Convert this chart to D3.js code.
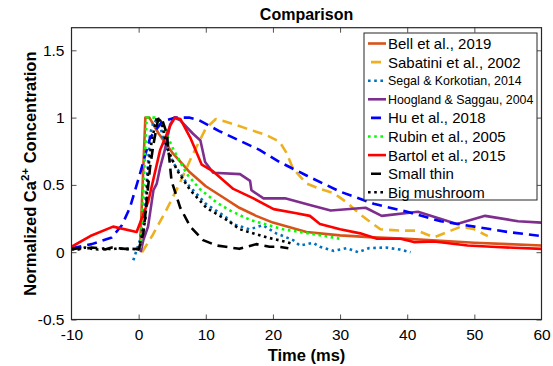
<!DOCTYPE html>
<html>
<head>
<meta charset="utf-8">
<script src="https://cdn.jsdelivr.net/npm/d3@7"></script>
<style>
  html, body { margin: 0; padding: 0; background: #fff; }
  svg text { font-family: "Liberation Sans", Arial, Helvetica, sans-serif; fill: #000; }
</style>
</head>
<body>
<div id="chart"></div>
<script>
// ---- data ----
const bellT = [0.2, 1.0, 1.6, 3, 5, 7.5, 10, 12.5, 15, 17.5, 20, 25, 30, 35, 40, 45, 50, 55, 60];
const bellV = [0.02, 1.0, 1.0, 0.88, 0.74, 0.6, 0.49, 0.41, 0.33, 0.27, 0.22, 0.15, 0.125, 0.11, 0.1, 0.085, 0.07, 0.06, 0.05];

const sabatiniT = [0.5, 2, 4, 6, 8, 10, 11.5, 13, 16, 19, 21, 22, 23, 25, 27, 29, 31, 33, 36, 39, 41.5, 44, 46.5, 48, 50, 52];
const sabatiniV = [0.0, 0.12, 0.3, 0.5, 0.72, 0.92, 0.99, 0.97, 0.92, 0.87, 0.82, 0.74, 0.62, 0.51, 0.47, 0.44, 0.37, 0.28, 0.17, 0.16, 0.16, 0.11, 0.16, 0.19, 0.17, 0.12];

const segalT = [-0.8, 0.2, 1, 1.7, 2.3, 3.2, 3.8, 5.2, 7.2, 10, 13, 14, 16.5, 18.5, 20.5, 23, 24, 26, 27, 29, 31, 32.7, 34.3, 36.8, 38.9, 40.5];
const segalV = [-0.06, 0.09, 0.38, 0.88, 0.98, 0.95, 0.8, 0.66, 0.51, 0.36, 0.26, 0.21, 0.17, 0.2, 0.14, 0.09, 0.05, 0.07, 0.04, 0.01, 0.03, 0.0, 0.03, 0.035, 0.02, 0.0];

const hooglandT = [0.3, 0.7, 1.4, 2.2, 2.7, 3.2, 3.9, 4.7, 5.3, 6.2, 8.1, 9.2, 9.9, 11.1, 15.1, 16.6, 16.8, 18.6, 21.8, 25.5, 28.6, 33.8, 36.2, 41.6, 47.4, 51.6, 56.5, 60];
const hooglandV = [0.0, 0.09, 0.19, 0.46, 0.51, 0.63, 0.76, 0.95, 1.0, 0.98, 0.88, 0.83, 0.67, 0.59, 0.58, 0.53, 0.46, 0.4, 0.4, 0.35, 0.31, 0.33, 0.27, 0.3, 0.21, 0.27, 0.23, 0.22];

const huT = [-10, -7, -4, -2.5, -1.3, 0.3, 1.7, 3.5, 5.5, 7.5, 9, 12, 15, 18, 21, 25, 30, 35, 40, 45, 50, 55, 60];
const huV = [0.03, 0.06, 0.11, 0.2, 0.33, 0.6, 0.85, 0.97, 1.0, 1.0, 0.98, 0.9, 0.83, 0.76, 0.67, 0.57, 0.45, 0.36, 0.3, 0.23, 0.19, 0.15, 0.12];

const rubinT = [0.3, 1.2, 2.4, 3.7, 5.2, 7.2, 9.1, 11.6, 13.6, 16.6, 21.5, 26.5, 30];
const rubinV = [0.03, 1.0, 1.0, 0.93, 0.76, 0.58, 0.47, 0.37, 0.31, 0.24, 0.17, 0.13, 0.1];

const bartolT = [-10, -7.2, -3.8, -0.3, 1.45, 3.2, 4.7, 5.4, 6.2, 7.7, 9.4, 11.1, 14.1, 17.1, 20.1, 23.5, 25.5, 27, 30, 33, 35.5, 39, 41, 44, 49, 54, 60];
const bartolV = [0.04, 0.12, 0.19, 0.15, 0.38, 0.76, 0.94, 1.0, 0.99, 0.85, 0.65, 0.6, 0.47, 0.4, 0.32, 0.29, 0.27, 0.21, 0.17, 0.14, 0.1, 0.1, 0.075, 0.08, 0.05, 0.037, 0.025];

const smallThinT = [-10, -9, -8, -7, -6, -5, -4, -3, -2, -1, 0, 0.7, 1.2, 1.7, 2.2, 2.9, 3.4, 4.2, 4.9, 6.2, 7.7, 9.6, 11.6, 13, 15, 17.5, 19.5, 21, 22.3];
const smallThinV = [0.02, 0.03, 0.025, 0.035, 0.03, 0.02, 0.035, 0.03, 0.025, 0.03, 0.02, 0.14, 0.38, 0.63, 0.8, 0.99, 1.0, 0.88, 0.53, 0.33, 0.19, 0.09, 0.05, 0.04, 0.025, 0.06, 0.04, 0.04, 0.03];

const bigMushT = [-10, -9, -8, -7, -6, -5, -4, -3, -2, -1, 0, 1.0, 1.45, 1.95, 2.7, 3.4, 4.2, 5.7, 7.7, 10.1, 13.1, 15.1, 19.1, 22.1, 23];
const bigMushV = [0.025, 0.02, 0.035, 0.025, 0.02, 0.03, 0.02, 0.03, 0.02, 0.025, 0.02, 0.24, 0.63, 0.83, 1.0, 0.97, 0.78, 0.61, 0.46, 0.33, 0.24, 0.17, 0.11, 0.075, 0.06];

const seriesNames = ['Bell et al., 2019', 'Sabatini et al., 2002', 'Segal & Korkotian, 2014', 'Hoogland & Saggau, 2004',
  'Hu et al., 2018', 'Rubin et al., 2005', 'Bartol et al., 2015', 'Small thin', 'Big mushroom'];

const xTicks = [-10, 0, 10, 20, 30, 40, 50, 60];
const yTicks = [-0.5, 0, 0.5, 1, 1.5];

// ---- styles ----
const dashed = '10,6';
const dotted = '2.6,3.6';
const series = [
  { name: seriesNames[0], t: bellT, v: bellV, color: '#D95319', dash: null },
  { name: seriesNames[1], t: sabatiniT, v: sabatiniV, color: '#EDB120', dash: dashed },
  { name: seriesNames[2], t: segalT, v: segalV, color: '#0072BD', dash: dotted, small: true },
  { name: seriesNames[3], t: hooglandT, v: hooglandV, color: '#7E2F8E', dash: null, small: true },
  { name: seriesNames[4], t: huT, v: huV, color: '#0000FF', dash: dashed },
  { name: seriesNames[5], t: rubinT, v: rubinV, color: '#00FF00', dash: dotted },
  { name: seriesNames[6], t: bartolT, v: bartolV, color: '#FF0000', dash: null },
  { name: seriesNames[7], t: smallThinT, v: smallThinV, color: '#000000', dash: dashed },
  { name: seriesNames[8], t: bigMushT, v: bigMushV, color: '#000000', dash: dotted }
];

const width = 553, height = 366;
const plot = { left: 71.5, right: 541.5, top: 27.7, bottom: 319.5 };

const svg = d3.select('#chart').append('svg')
  .attr('width', width)
  .attr('height', height);

const x = d3.scaleLinear().domain([-10, 60]).range([plot.left, plot.right]);
const y = d3.scaleLinear().domain([-0.5, 1.668]).range([plot.bottom, plot.top]);

svg.append('defs').append('clipPath').attr('id', 'clip')
  .append('rect')
  .attr('x', plot.left).attr('y', plot.top)
  .attr('width', plot.right - plot.left).attr('height', plot.bottom - plot.top);

// axes (matlab style, ticks inside, box on)
const axisColor = '#262626';
const tickLen = 5;

const xAxisB = svg.append('g')
  .attr('transform', `translate(0,${plot.bottom})`)
  .call(d3.axisBottom(x).tickValues(xTicks).tickSizeInner(-tickLen).tickSizeOuter(0).tickPadding(9).tickFormat(d => String(d)));
const xAxisT = svg.append('g')
  .attr('transform', `translate(0,${plot.top})`)
  .call(d3.axisTop(x).tickValues(xTicks).tickSizeInner(-tickLen).tickSizeOuter(0).tickFormat(''));
const yAxisL = svg.append('g')
  .attr('transform', `translate(${plot.left},0)`)
  .call(d3.axisLeft(y).tickValues(yTicks).tickSizeInner(-tickLen).tickSizeOuter(0).tickPadding(7).tickFormat(d => String(d)));
const yAxisR = svg.append('g')
  .attr('transform', `translate(${plot.right},0)`)
  .call(d3.axisRight(y).tickValues(yTicks).tickSizeInner(-tickLen).tickSizeOuter(0).tickFormat(''));

[xAxisB, xAxisT, yAxisL, yAxisR].forEach(g => {
  g.select('.domain').remove();
  g.selectAll('.tick line').attr('stroke', axisColor).attr('stroke-width', 0.8);
  g.selectAll('.tick text')
    .attr('font-family', '"Liberation Sans", Arial, sans-serif')
    .attr('font-size', 15.5)
    .attr('fill', '#000');
});
// edge ticks would sit on the box, drop them
xAxisT.selectAll('.tick').filter(d => d === -10 || d === 60).select('line').remove();
xAxisB.selectAll('.tick').filter(d => d === -10 || d === 60).select('line').remove();

// lines
const line = d3.line()
  .x(d => x(d[0]))
  .y(d => y(d[1]));

const lines = svg.append('g').attr('clip-path', 'url(#clip)');
series.forEach(s => {
  lines.append('path')
    .datum(s.t.map((t, i) => [t, s.v[i]]))
    .attr('d', line)
    .attr('fill', 'none')
    .attr('stroke', s.color)
    .attr('stroke-width', 2.6)
    .attr('stroke-linejoin', 'round')
    .attr('stroke-dasharray', s.dash);
});

// box
svg.append('rect')
  .attr('x', plot.left).attr('y', plot.top)
  .attr('width', plot.right - plot.left).attr('height', plot.bottom - plot.top)
  .attr('fill', 'none')
  .attr('stroke', axisColor)
  .attr('stroke-width', 1.2);

// labels
svg.append('text')
  .attr('x', (plot.left + plot.right) / 2)
  .attr('y', 20)
  .attr('text-anchor', 'middle')
  .attr('font-weight', 'bold')
  .attr('font-size', 16)
  .text('Comparison');

svg.append('text')
  .attr('x', (plot.left + plot.right) / 2)
  .attr('y', 361)
  .attr('text-anchor', 'middle')
  .attr('font-weight', 'bold')
  .attr('font-size', 16.5)
  .text('Time (ms)');

const yLab = svg.append('text')
  .attr('transform', `translate(36,${(plot.top + plot.bottom) / 2}) rotate(-90)`)
  .attr('text-anchor', 'middle')
  .attr('font-weight', 'bold')
  .attr('font-size', 16.5);
yLab.append('tspan').text('Normalized Ca');
yLab.append('tspan').attr('font-size', 11.5).attr('dy', -7).text('2+');
yLab.append('tspan').attr('dy', 7).text(' Concentration');

// legend
const legend = { x: 364, y: 33, w: 173, h: 167, row: 18.6 };
const lg = svg.append('g');
lg.append('rect')
  .attr('x', legend.x).attr('y', legend.y)
  .attr('width', legend.w).attr('height', legend.h)
  .attr('fill', '#fff')
  .attr('stroke', axisColor)
  .attr('stroke-width', 1);

series.forEach((s, i) => {
  const cy = legend.y + 10.5 + i * legend.row;
  lg.append('line')
    .attr('x1', legend.x + 4).attr('x2', legend.x + 22)
    .attr('y1', cy).attr('y2', cy)
    .attr('stroke', s.color)
    .attr('stroke-width', 2.6)
    .attr('stroke-dasharray', s.dash ? (s.dash === dashed ? '0,3,10,20' : s.dash) : null);
  lg.append('text')
    .attr('x', legend.x + 24)
    .attr('y', cy)
    .attr('dy', '0.36em')
    .attr('font-size', s.small ? 12.4 : 15)
    .attr('font-family', s.small ? '"Open Sans", sans-serif' : null)
    .text(s.name);
});
</script>
</body>
</html>
